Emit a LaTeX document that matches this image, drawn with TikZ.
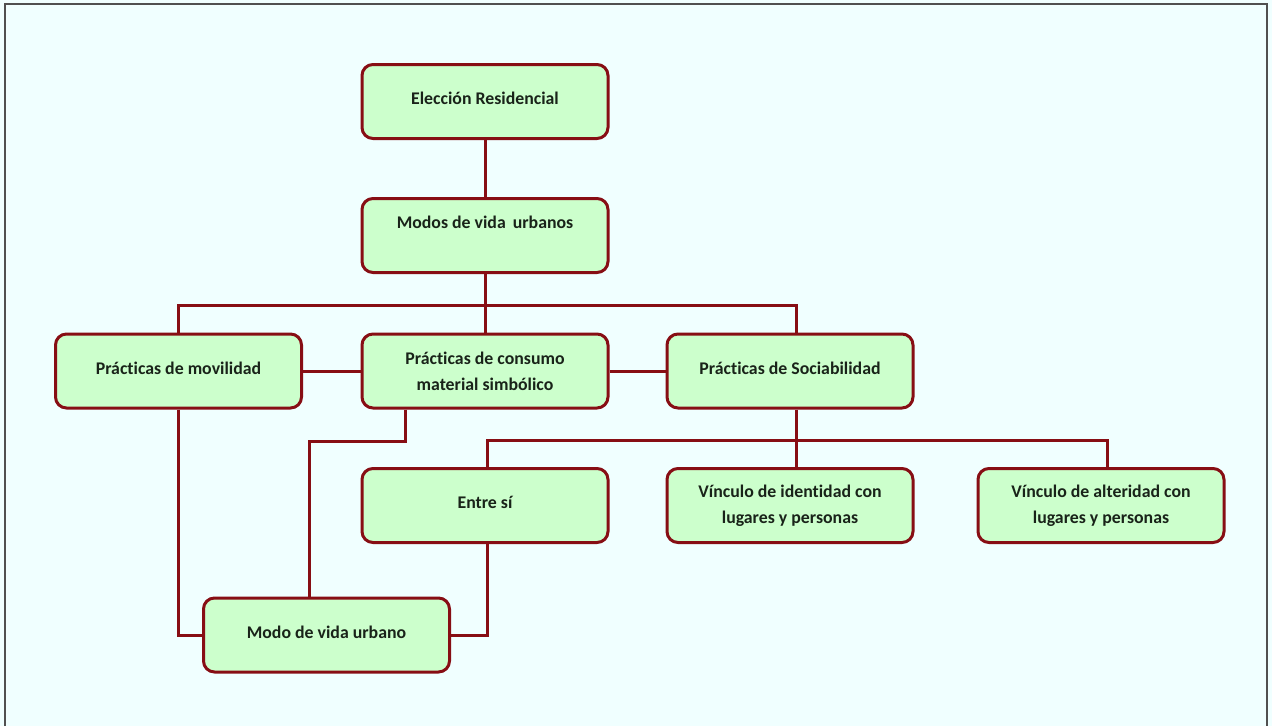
\documentclass[tikz,border=0pt]{standalone}
\usepackage{fontspec}
\setmainfont{Carlito}[RawFeature=-liga]
\usetikzlibrary{calc}
\definecolor{bg}{RGB}{240,255,255}
\definecolor{boxred}{RGB}{135,14,20}
\definecolor{boxfill}{RGB}{204,255,204}
\definecolor{txt}{RGB}{25,35,25}
\definecolor{frame}{RGB}{80,80,80}
\tikzset{
  box/.style={draw=boxred, line width=3pt, fill=boxfill, rounded corners=11pt,
    minimum width=246pt, minimum height=74pt, inner sep=0pt, align=center,
    text=txt, font=\fontsize{17.8}{26}\selectfont\bfseries},
  single/.style={text height=10pt, text depth=4pt},
  conn/.style={draw=boxred, line width=3pt}
}
\begin{document}
\begin{tikzpicture}[x=1pt,y=-1pt]
\fill[bg] (0,0) rectangle (1272,726);
\useasboundingbox (0,0) rectangle (1272,726);
\draw[frame, line width=1.5pt] (5,726) -- (5,4) -- (1267,4) -- (1267,726);

\node[box, single] (er) at (485,101.5) {Elección Residencial};
\node[box] (mv) at (485,235.5) {Modos de vida\, urbanos\\ \mbox{}};
\node[box, single] (pm) at (178.5,371) {Prácticas de movilidad};
\node[box] (pc) at (485,371) {Prácticas de consumo\\ material simbólico};
\node[box, single] (ps) at (790,371) {Prácticas de Sociabilidad};
\node[box, single] (es) at (485,505.5) {Entre sí};
\node[box] (vi) at (790,505.5) {Vínculo de identidad con\\ lugares y personas};
\node[box] (va) at (1101,505.5) {Vínculo de alteridad con\\ lugares y personas};
\node[box, single] (mu) at (326.5,635) {Modo de vida urbano};

\coordinate (busA) at (485,305);
\coordinate (sx) at (796,0);
\coordinate (busB) at (796,440);
\coordinate (ex) at (487,0);
\coordinate (ax) at (1107,0);
\coordinate (cdrop) at (405,441);
\coordinate (cturn) at (309,441);

\draw[conn] (er.south) -- (mv.north);
\draw[conn] (mv.south) -- (busA);
\draw[conn] (pm.north) |- (busA) -| (ps.north -| sx);
\draw[conn] (busA) -- (pc.north);
\draw[conn] (pm.east) -- (pc.west);
\draw[conn] (pc.east) -- (ps.west);
\draw[conn] (ps.south -| sx) -- (vi.north -| sx);
\draw[conn] (es.north -| ex) |- (busB) -| (va.north -| ax);
\draw[conn] (pc.south -| cdrop) -- (cdrop) -- (cturn) -- (mu.north -| cturn);
\draw[conn] (pm.south) |- (mu.west);
\draw[conn] (es.south -| ex) |- (mu.east);
\end{tikzpicture}
\end{document}
